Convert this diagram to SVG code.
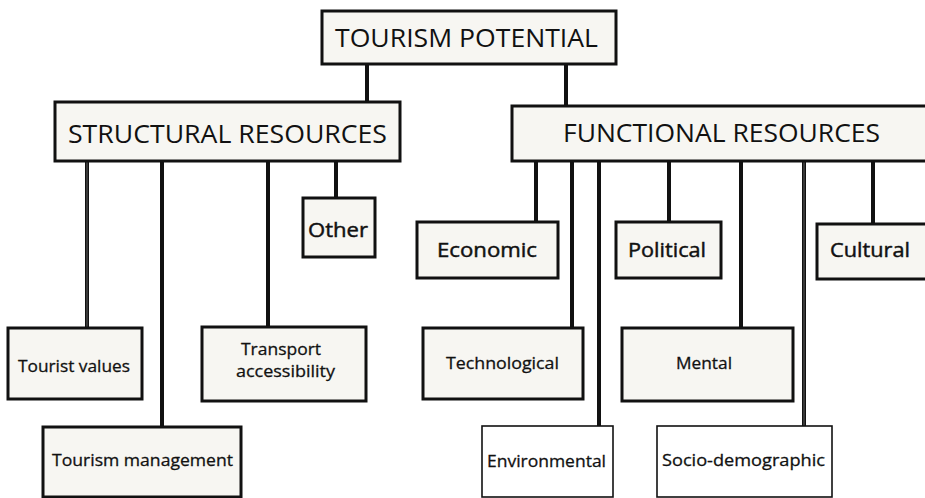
<svg xmlns="http://www.w3.org/2000/svg" width="925" height="498" viewBox="0 0 925 498">
  <style>
    .box { fill: #f7f6f2; stroke: #111; stroke-width: 3; }
    .thin { fill: #ffffff; stroke: #111; stroke-width: 1.6; }
    .link { stroke: #111; stroke-width: 4; fill: none; }
    .link-in { stroke: #4a4a4a; stroke-width: 1.4; fill: none; }
    text { font-family: "Open Sans", "Noto Sans", "Liberation Sans", sans-serif; fill: #111; font-weight: 400; }
    .big { font-size: 26px; }
    .mid { font-size: 20px; stroke: #111; stroke-width: 0.45; }
    .small { font-size: 17px; stroke: #111; stroke-width: 0.3; }
  </style>
  <rect width="925" height="498" fill="#ffffff"/>

  <!-- connectors -->
  <g id="connectors">
    <line class="link" x1="367" y1="64" x2="367" y2="102"/>
    <line class="link" x1="566" y1="64" x2="566" y2="106"/>
    <line class="link" x1="87" y1="161" x2="87" y2="328"/>
    <line class="link-in" x1="87" y1="161" x2="87" y2="328"/>
    <line class="link" x1="162" y1="161" x2="162" y2="427"/>
    <line class="link" x1="268" y1="161" x2="268" y2="327"/>
    <line class="link" x1="336" y1="161" x2="336" y2="198"/>
    <line class="link" x1="536" y1="161" x2="536" y2="221"/>
    <line class="link" x1="572" y1="161" x2="572" y2="328"/>
    <line class="link" x1="599" y1="161" x2="599" y2="426"/>
    <line class="link" x1="669" y1="161" x2="669" y2="222"/>
    <line class="link" x1="741" y1="161" x2="741" y2="328"/>
    <line class="link" x1="804" y1="161" x2="804" y2="426"/>
    <line class="link-in" x1="804" y1="161" x2="804" y2="426"/>
    <line class="link" x1="873" y1="161" x2="873" y2="224"/>
  </g>

  <g id="tourism-potential">
    <rect class="box" x="322" y="11" width="294" height="53"/>
    <text class="big" x="335" y="47" textLength="263" lengthAdjust="spacingAndGlyphs">TOURISM POTENTIAL</text>
  </g>

  <g id="structural-resources">
    <rect class="box" x="55" y="102" width="345" height="59"/>
    <text class="big" x="68" y="143" textLength="319" lengthAdjust="spacingAndGlyphs">STRUCTURAL RESOURCES</text>
  </g>

  <g id="functional-resources">
    <rect class="box" x="512" y="106" width="416" height="55"/>
    <text class="big" x="563" y="142" textLength="317" lengthAdjust="spacingAndGlyphs">FUNCTIONAL RESOURCES</text>
  </g>

  <g id="other">
    <rect class="box" x="303" y="198" width="72" height="59"/>
    <text class="mid" x="308" y="237" textLength="60" lengthAdjust="spacingAndGlyphs">Other</text>
  </g>

  <g id="economic">
    <rect class="box" x="417" y="222" width="141" height="56"/>
    <text class="mid" x="437" y="257" textLength="100" lengthAdjust="spacingAndGlyphs">Economic</text>
  </g>

  <g id="political">
    <rect class="box" x="616" y="222" width="105" height="56"/>
    <text class="mid" x="628" y="257" textLength="78" lengthAdjust="spacingAndGlyphs">Political</text>
  </g>

  <g id="cultural">
    <rect class="box" x="817" y="224" width="111" height="55"/>
    <text class="mid" x="830" y="257" textLength="80" lengthAdjust="spacingAndGlyphs">Cultural</text>
  </g>

  <g id="tourist-values">
    <rect class="box" x="8" y="328" width="134" height="71"/>
    <text class="small" x="18" y="372" textLength="112" lengthAdjust="spacingAndGlyphs">Tourist values</text>
  </g>

  <g id="transport-accessibility">
    <rect class="box" x="202" y="327" width="164" height="74"/>
    <text class="small" x="241" y="355" textLength="80" lengthAdjust="spacingAndGlyphs">Transport</text>
    <text class="small" x="236" y="377" textLength="99" lengthAdjust="spacingAndGlyphs">accessibility</text>
  </g>

  <g id="tourism-management">
    <rect class="box" x="43" y="427" width="198" height="70"/>
    <text class="small" x="52" y="466" textLength="181" lengthAdjust="spacingAndGlyphs">Tourism management</text>
  </g>

  <g id="technological">
    <rect class="box" x="423" y="328" width="160" height="71"/>
    <text class="small" x="446" y="369" textLength="113" lengthAdjust="spacingAndGlyphs">Technological</text>
  </g>

  <g id="mental">
    <rect class="box" x="622" y="328" width="171" height="73"/>
    <text class="small" x="676" y="369" textLength="56" lengthAdjust="spacingAndGlyphs">Mental</text>
  </g>

  <g id="environmental">
    <rect class="thin" x="482" y="426" width="131" height="71"/>
    <text class="small" x="487" y="467" textLength="119" lengthAdjust="spacingAndGlyphs">Environmental</text>
  </g>

  <g id="socio-demographic">
    <rect class="thin" x="657" y="426" width="175" height="71"/>
    <text class="small" x="662" y="466" textLength="163" lengthAdjust="spacingAndGlyphs">Socio-demographic</text>
  </g>
</svg>
